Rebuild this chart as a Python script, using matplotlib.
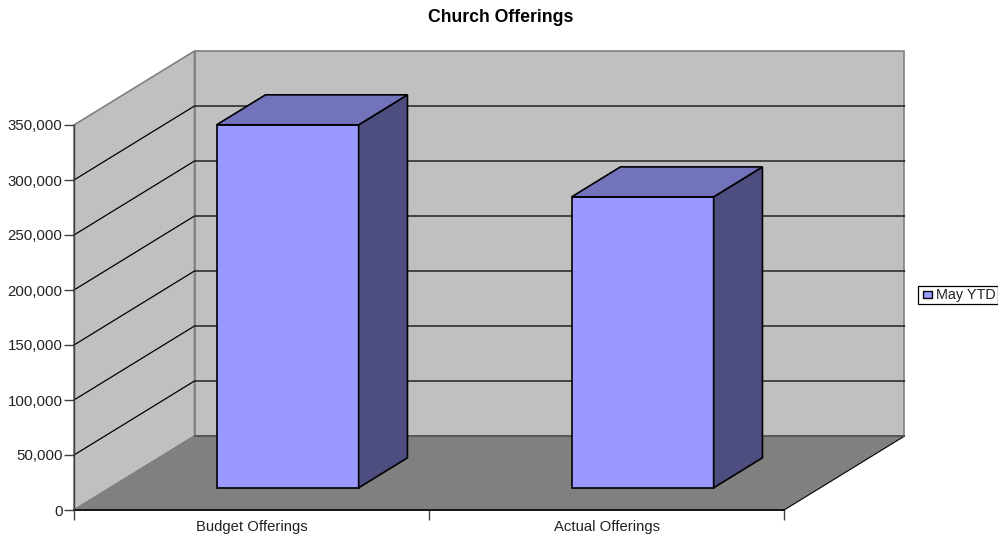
import matplotlib
matplotlib.use("Agg")
import matplotlib.pyplot as plt
from matplotlib.patches import Polygon, Rectangle

plt.rcParams['font.family'] = ['Liberation Sans', 'DejaVu Sans']

categories = ["Budget Offerings", "Actual Offerings"]
series_name = "May YTD"
values = [330000, 264500]
yticks = [0, 50000, 100000, 150000, 200000, 250000, 300000, 350000]

W, H = 998, 535
L, R, T, B = 74, 784, 125, 510
DX = 120.5 / 710 * 2           # depth shift in category units
DY = 74 / 385 * 350000       # depth shift in value units

fig = plt.figure(figsize=(W / 100, H / 100), dpi=100)
ax = fig.add_axes([L / W, 1 - B / H, (R - L) / W, (B - T) / H])
ax.set_xlim(0, 2)
ax.set_ylim(0, 350000)
ax.patch.set_visible(False)


def proj(x, v, d):
    return (x + d * DX, v + d * DY)


def poly(points, **kw):
    p = Polygon([proj(*q) for q in points], closed=True, clip_on=False, **kw)
    ax.add_patch(p)


TOP = yticks[-1]
# walls and floor
poly([(0, 0, 1), (2, 0, 1), (2, TOP, 1), (0, TOP, 1)], fc="#c0c0c0", ec="#808080", lw=1.2, zorder=1)
poly([(0, 0, 0), (0, 0, 1), (0, TOP, 1), (0, TOP, 0)], fc="#c0c0c0", ec="#808080", lw=1.2, zorder=1)
poly([(0, 0, 0), (2, 0, 0), (2, 0, 1), (0, 0, 1)], fc="#808080", ec="#808080", lw=1.0, zorder=1)

# gridlines
for v in yticks[1:-1]:
    a, b, c = proj(0, v, 0), proj(0, v, 1), proj(2, v, 1)
    ax.plot([a[0], b[0], c[0]], [a[1], b[1], c[1]], color="black", lw=0.9, zorder=2, clip_on=False)
ax.plot([0, 2], [0, 0], color="black", lw=1.2, zorder=3, clip_on=False)
f0, f1 = proj(2, 0, 0), proj(2, 0, 1)
ax.plot([f0[0], f1[0]], [f0[1], f1[1]], color="black", lw=0.7, zorder=2, clip_on=False)
e0, e1 = proj(0, 0, 1), proj(2, 0, 1)
ax.plot([e0[0], e1[0]], [e0[1], e1[1]], color="#505050", lw=1.2, zorder=2, clip_on=False)

# bars
d0, d1 = 0.30, 0.705
for i, val in enumerate(values):
    x0, x1 = i + 0.30, i + 0.70
    style = dict(ec="black", lw=1.2, joinstyle="miter", zorder=5)
    poly([(x0, 0, d0), (x1, 0, d0), (x1, val, d0), (x0, val, d0)], fc="#9999ff", **style)
    poly([(x1, 0, d0), (x1, 0, d1), (x1, val, d1), (x1, val, d0)], fc="#4d4d80", **style)
    poly([(x0, val, d0), (x1, val, d0), (x1, val, d1), (x0, val, d1)], fc="#7373bb", **style)

# axes
for s in ["top", "right", "bottom"]:
    ax.spines[s].set_visible(False)
ax.spines["left"].set_linewidth(1.0)
ax.spines["left"].set_color("#404040")
ax.spines["left"].set_zorder(4)
ax.set_yticks(yticks)
ax.set_yticklabels([f"{v:,}" for v in yticks], fontsize=10.8, color="#222222")
ax.set_xticks([0, 1, 2])
ax.set_xticklabels(["", "", ""])
ax.set_xticks([0.5, 1.5], labels=categories, minor=True, fontsize=10.7, color="#222222")
ax.tick_params(axis="x", which="major", length=7, width=1.0, color="#404040")
ax.tick_params(axis="x", which="minor", length=0, pad=7)
ax.tick_params(axis="y", length=7.5, width=1.0, pad=0.8, color="#404040")

fig.text(501 / W, 1 - 17.5 / H, "Church Offerings", ha="center", va="center",
         fontsize=12.7, fontweight="bold")

# legend
fig.add_artist(Rectangle((917.5 / W, 1 - 303.5 / H), 81 / W, 18 / H, transform=fig.transFigure,
                         fc="white", ec="black", lw=0.9))
fig.add_artist(Rectangle((922.5 / W, 1 - 297.5 / H), 9 / W, 7 / H, transform=fig.transFigure,
                         fc="#9999ff", ec="black", lw=1.0))
fig.text(936 / W, 1 - 294.5 / H, series_name, ha="left", va="center", fontsize=10.4, color="#222222")

fig.savefig("out.png", dpi=100)
